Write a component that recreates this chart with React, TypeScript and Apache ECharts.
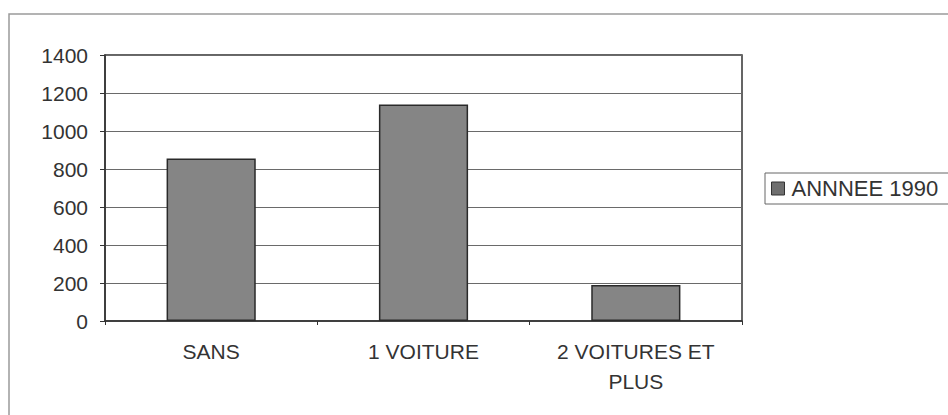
import React, { useEffect, useRef } from "react";
import * as echarts from "echarts";

const categories = ["SANS", "1 VOITURE", "2 VOITURES ET\nPLUS"];
const values1990 = [855, 1140, 190];
const seriesName = "ANNNEE 1990";
const yTicks = { min: 0, max: 1400, interval: 200 };

export default function App() {
  const ref = useRef<HTMLDivElement>(null);
  useEffect(() => {
    document.body.style.margin = "0";
    const chart = echarts.init(ref.current!, null, { renderer: "svg" });
    chart.setOption({
      animation: false,
      backgroundColor: "#ffffff",
      textStyle: { fontFamily: "Liberation Sans" },
      graphic: [
        {
          type: "polyline",
          shape: { points: [[9, 420], [9, 14], [960, 14]] },
          style: { stroke: "#9a9a9a", lineWidth: 1.5, fill: "none" },
          z: -1,
        },
      ],
      grid: { left: 105, top: 55, right: 206, bottom: 94, show: true, borderColor: "#333", borderWidth: 1.5 },
      legend: {
        left: 765,
        top: 173,
        orient: "vertical",
        itemWidth: 13,
        itemHeight: 13,
        borderColor: "#666",
        borderWidth: 1,
        padding: [4, 20, 4, 6],
        textStyle: { fontSize: 22, lineHeight: 23, color: "#333", fontFamily: "Liberation Sans", padding: [0, 0, 0, 2] },
        icon: "rect",
        data: [{ name: seriesName, itemStyle: { color: "#6f6f6f", borderColor: "#333", borderWidth: 1 } }],
      },
      xAxis: {
        type: "category",
        data: categories,
        axisLine: { lineStyle: { color: "#333", width: 1.5 } },
        axisTick: { show: true, length: 4, lineStyle: { color: "#333" } },
        axisLabel: { color: "#333", fontSize: 21, margin: 15, lineHeight: 30, interval: 0 },
      },
      yAxis: {
        type: "value",
        min: yTicks.min,
        max: yTicks.max,
        interval: yTicks.interval,
        axisLine: { show: true, lineStyle: { color: "#333", width: 1.5 } },
        axisTick: { show: true, length: 5, lineStyle: { color: "#333" } },
        axisLabel: { color: "#333", fontSize: 21, margin: 17, formatter: (v: number) => String(v) },
        splitLine: { lineStyle: { color: "#6a6a6a", width: 1 } },
      },
      series: [
        {
          name: seriesName,
          type: "bar",
          data: values1990,
          barWidth: "42%",
          itemStyle: { color: "#858585", borderColor: "#2a2a2a", borderWidth: 1.5 },
        },
      ],
    });
    return () => chart.dispose();
  }, []);
  return <div ref={ref} style={{ width: 948, height: 415 }} />;
}
